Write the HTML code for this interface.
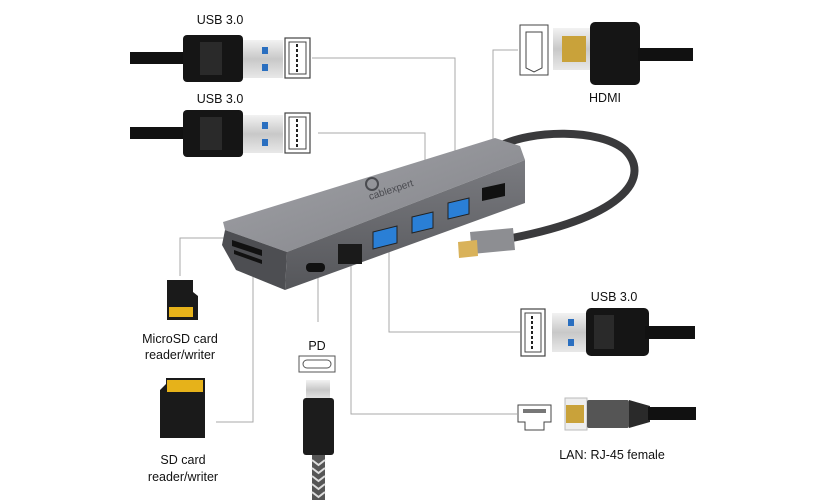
<!DOCTYPE html>
<html><head><meta charset="utf-8"><style>
html,body{margin:0;padding:0;background:#fff;}
svg{display:block;font-family:"Liberation Sans",sans-serif;}
</style></head><body>
<svg width="830" height="500" viewBox="0 0 830 500" xmlns="http://www.w3.org/2000/svg">
<defs>
<linearGradient id="top" x1="0" y1="0" x2="1" y2="1"><stop offset="0" stop-color="#a3a4a9"/><stop offset="1" stop-color="#818287"/></linearGradient>
<linearGradient id="front" x1="0" y1="0" x2="0" y2="1"><stop offset="0" stop-color="#7a7b80"/><stop offset="1" stop-color="#55565a"/></linearGradient>
<linearGradient id="metal" x1="0" y1="0" x2="0" y2="1"><stop offset="0" stop-color="#f2f2f2"/><stop offset="0.5" stop-color="#c8c8c8"/><stop offset="1" stop-color="#e8e8e8"/></linearGradient>
</defs>

<g stroke="#a9a9a9" stroke-width="1" fill="none">
<polyline points="312,58 455,58 455,198"/>
<polyline points="318,133 425,133 425,212"/>
<polyline points="518,50 493,50 493,186"/>
<polyline points="389,248 389,332 520,332"/>
<polyline points="351,266 351,414 517,414"/>
<polyline points="318,276 318,322"/>
<polyline points="253,268 253,422 216,422"/>
<polyline points="226,238 180,238 180,276"/>
</g>

<g>
<rect x="130" y="52" width="56" height="12" fill="#111"/>
<rect x="183" y="35" width="60" height="47" rx="4" fill="#151515"/>
<rect x="200" y="42" width="22" height="33" fill="#2a2a2a"/>
<rect x="243" y="40" width="40" height="38" fill="url(#metal)"/>
<rect x="262" y="47" width="6" height="7" fill="#2a6fc0"/>
<rect x="262" y="64" width="6" height="7" fill="#2a6fc0"/>
<rect x="285" y="38" width="25" height="40" fill="#fff" stroke="#444" stroke-width="1.2"/>
<rect x="289" y="42" width="17" height="32" fill="none" stroke="#444" stroke-width="1"/>
<line x1="297" y1="44" x2="297" y2="72" stroke="#222" stroke-width="2" stroke-dasharray="3,2"/>
</g>
<text x="220" y="24" font-size="12.5" text-anchor="middle" fill="#111">USB 3.0</text>

<g>
<rect x="130" y="127" width="56" height="12" fill="#111"/>
<rect x="183" y="110" width="60" height="47" rx="4" fill="#151515"/>
<rect x="200" y="117" width="22" height="33" fill="#2a2a2a"/>
<rect x="243" y="115" width="40" height="38" fill="url(#metal)"/>
<rect x="262" y="122" width="6" height="7" fill="#2a6fc0"/>
<rect x="262" y="139" width="6" height="7" fill="#2a6fc0"/>
<rect x="285" y="113" width="25" height="40" fill="#fff" stroke="#444" stroke-width="1.2"/>
<rect x="289" y="117" width="17" height="32" fill="none" stroke="#444" stroke-width="1"/>
<line x1="297" y1="119" x2="297" y2="147" stroke="#222" stroke-width="2" stroke-dasharray="3,2"/>
</g>
<text x="220" y="103" font-size="12.5" text-anchor="middle" fill="#111">USB 3.0</text>

<g>
<path d="M520,25 L548,25 L548,75 L520,75 Z" fill="#fff" stroke="#444"/>
<path d="M526,32 L542,32 L542,68 L534,72 L526,68 Z" fill="none" stroke="#444"/>
<rect x="553" y="28" width="37" height="42" fill="url(#metal)"/>
<rect x="562" y="36" width="24" height="26" fill="#c9a23a"/>
<rect x="590" y="22" width="50" height="63" rx="5" fill="#151515"/>
<rect x="638" y="48" width="55" height="13" fill="#111"/>
</g>
<text x="605" y="102" font-size="12.5" text-anchor="middle" fill="#111">HDMI</text>

<path d="M500,146 C530,130 600,128 625,150 C650,175 630,215 512,238" fill="none" stroke="#3a3a3c" stroke-width="8" stroke-linecap="round"/>
<path d="M470,232 L513,228 L515,250 L472,254 Z" fill="#8d8e92"/>
<path d="M458,242 L477,240 L478,256 L459,258 Z" fill="#d9b25a"/>

<polygon points="223,222 495,138 520,146 525,160 287,252 225,230" fill="url(#top)"/>
<polygon points="287,252 525,160 525,203 285,290" fill="url(#front)"/>
<polygon points="225,230 287,252 285,290 236,270 222,245" fill="#4d4e52"/>
<text x="370" y="200" font-size="10" fill="#4a4b50" transform="rotate(-18 370 200)">cablexpert</text>
<circle cx="372" cy="184" r="6" fill="none" stroke="#4a4b50" stroke-width="2"/>
<polygon points="373,232 397,226 397,243 373,249" fill="#2a7fd6" stroke="#222"/>
<polygon points="412,217 433,212 433,228 412,233" fill="#2a7fd6" stroke="#222"/>
<polygon points="448,203 469,198 469,214 448,219" fill="#2a7fd6" stroke="#222"/>
<polygon points="482,188 505,183 505,196 482,201" fill="#111"/>
<rect x="338" y="244" width="24" height="20" fill="#1a1a1a"/>
<rect x="306" y="263" width="19" height="9" rx="4" fill="#111"/>
<polygon points="232,240 262,250 262,256 232,246" fill="#111"/>
<polygon points="234,250 262,260 262,264 234,254" fill="#111"/>

<path d="M167,280 L193,280 L193,292 L198,296 L198,320 L167,320 Z" fill="#1a1a1a"/>
<rect x="169" y="307" width="24" height="10" fill="#e6b21a"/>
<text x="180" y="343" font-size="12.5" text-anchor="middle" fill="#111">MicroSD card</text>
<text x="180" y="359" font-size="12.5" text-anchor="middle" fill="#111">reader/writer</text>

<path d="M166,378 L205,378 L205,438 L160,438 L160,390 L166,384 Z" fill="#1a1a1a"/>
<rect x="167" y="380" width="36" height="12" fill="#e6b21a"/>
<text x="183" y="464" font-size="12.5" text-anchor="middle" fill="#111">SD card</text>
<text x="183" y="481" font-size="12.5" text-anchor="middle" fill="#111">reader/writer</text>

<text x="317" y="350" font-size="12.5" text-anchor="middle" fill="#111">PD</text>
<rect x="299" y="356" width="36" height="16" fill="#fff" stroke="#555"/>
<rect x="303" y="360" width="28" height="8" rx="4" fill="none" stroke="#555"/>
<rect x="306" y="380" width="24" height="20" fill="url(#metal)"/>
<rect x="303" y="398" width="31" height="57" rx="3" fill="#1c1c1c"/>
<rect x="312" y="455" width="13" height="45" fill="#555"/>
<path d="M312,460 l6.5,5 l6.5,-5 M312,468 l6.5,5 l6.5,-5 M312,476 l6.5,5 l6.5,-5 M312,484 l6.5,5 l6.5,-5 M312,492 l6.5,5 l6.5,-5" stroke="#ddd" stroke-width="2" fill="none"/>

<text x="614" y="301" font-size="12.5" text-anchor="middle" fill="#111">USB 3.0</text>
<rect x="521" y="309" width="24" height="47" fill="#fff" stroke="#444" stroke-width="1.2"/>
<rect x="525" y="313" width="16" height="39" fill="none" stroke="#444"/>
<line x1="532" y1="316" x2="532" y2="350" stroke="#222" stroke-width="2" stroke-dasharray="3,2"/>
<rect x="552" y="313" width="35" height="39" fill="url(#metal)"/>
<rect x="568" y="319" width="6" height="7" fill="#2a6fc0"/>
<rect x="568" y="339" width="6" height="7" fill="#2a6fc0"/>
<rect x="586" y="308" width="63" height="48" rx="5" fill="#151515"/>
<rect x="594" y="315" width="20" height="34" fill="#2a2a2a"/>
<rect x="645" y="326" width="50" height="13" fill="#111"/>

<path d="M518,405 L551,405 L551,422 L544,422 L544,430 L525,430 L525,422 L518,422 Z" fill="#fff" stroke="#444"/>
<rect x="523" y="409" width="23" height="4" fill="#777"/>
<rect x="565" y="398" width="22" height="32" fill="#eee" stroke="#bbb"/>
<rect x="566" y="405" width="18" height="18" fill="#c9a23a"/>
<rect x="587" y="400" width="42" height="28" rx="2" fill="#555"/>
<polygon points="629,400 650,406 650,422 629,428" fill="#2a2a2a"/>
<rect x="648" y="407" width="48" height="13" fill="#111"/>
<text x="612" y="459" font-size="12.5" text-anchor="middle" fill="#111">LAN: RJ-45 female</text>
</svg>
</body></html>
